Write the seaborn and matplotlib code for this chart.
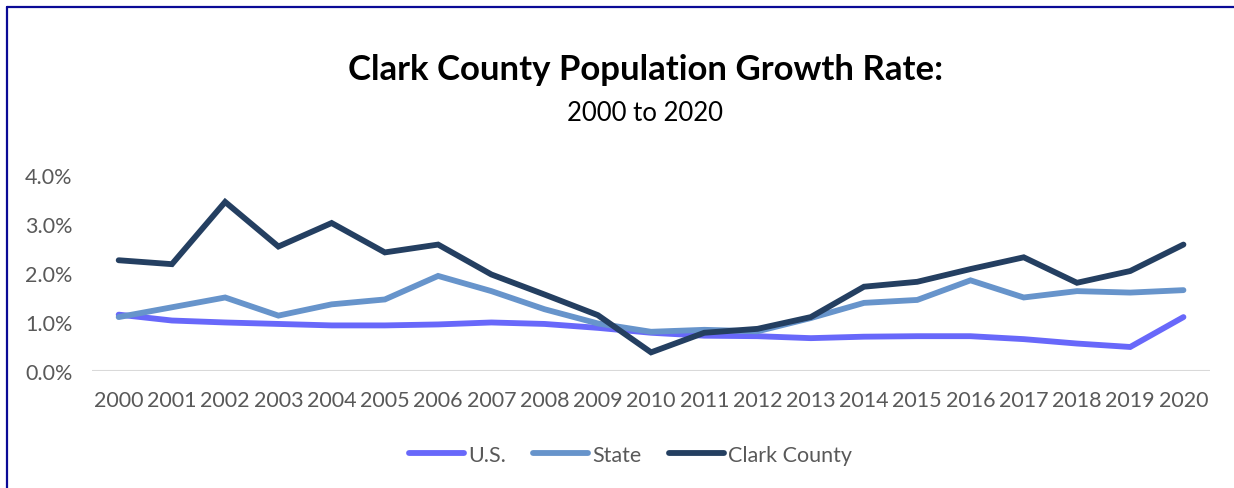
import pandas as pd
import matplotlib.pyplot as plt
import matplotlib.lines as mlines
from matplotlib.ticker import PercentFormatter
import seaborn as sns

years = [str(y) for y in range(2000, 2021)]

us = [1.15, 1.03, 0.99, 0.96, 0.93, 0.93, 0.95, 0.99, 0.96, 0.88, 0.78,
      0.72, 0.71, 0.67, 0.70, 0.71, 0.71, 0.65, 0.56, 0.49, 1.10]
state = [1.10, 1.30, 1.50, 1.13, 1.36, 1.46, 1.94, 1.63, 1.26, 0.97, 0.80,
         0.84, 0.81, 1.08, 1.39, 1.45, 1.85, 1.50, 1.63, 1.60, 1.65]
clark = [2.26, 2.18, 3.45, 2.54, 3.02, 2.42, 2.58, 1.97, 1.56, 1.14, 0.38,
         0.78, 0.86, 1.10, 1.72, 1.82, 2.08, 2.32, 1.80, 2.04, 2.58]

series_names = ["U.S.", "State", "Clark County"]
colors = ["#6868FA", "#6794CB", "#243F61"]

df = pd.DataFrame({
    "year": years * 3,
    "rate": us + state + clark,
    "area": [n for n in series_names for _ in years],
})

sns.set_style("white")
plt.rcParams['font.family'] = ['Lato', 'DejaVu Sans']

fig = plt.figure(figsize=(12.34, 4.89), dpi=100)
ax = fig.add_axes([0.0746, 0.2393, 0.906, 0.4008])

sns.lineplot(data=df, x="year", y="rate", hue="area", palette=colors,
             linewidth=4.2, ax=ax, legend=False, sort=False)
for ln in ax.lines:
    ln.set_solid_capstyle("round")
    ln.set_solid_joinstyle("miter")

ax.set_xlim(-0.5, 20.5)
ax.set_ylim(0, 4.0)
ax.set_yticks([0, 1, 2, 3, 4])
ax.yaxis.set_major_formatter(PercentFormatter(decimals=1))
ax.axhline(0, color="#D9D9D9", linewidth=1.5, zorder=0)
for s in ax.spines.values():
    s.set_visible(False)
ax.tick_params(axis="both", length=0, labelsize=15.5, colors="#595959")
ax.tick_params(axis="x", pad=14)
ax.tick_params(axis="y", pad=14)
ax.set_xlabel("")
ax.set_ylabel("")

fig.text(0.523, 0.857, "Clark County Population Growth Rate:", ha="center",
         va="center", fontsize=25, fontweight="bold", color="black")
fig.text(0.523, 0.767, "2000 to 2020", ha="center", va="center",
         fontsize=18.5, color="black")

handles = [mlines.Line2D([], [], color=c, linewidth=4.2, solid_capstyle="round")
           for c in colors]
leg = fig.legend(handles, series_names, loc="center", bbox_to_anchor=(0.511, 0.068),
                 ncol=3, frameon=False, fontsize=15.5, handlelength=2.55,
                 handletextpad=0.2, columnspacing=1.25)
for t in leg.get_texts():
    t.set_color("#595959")

# chart frame (left and top edges)
fig.add_artist(mlines.Line2D([7 / 1234, 7 / 1234], [0, 1 - 8 / 489],
                             color="#0A0A96", linewidth=1.6))
fig.add_artist(mlines.Line2D([7 / 1234, 1], [1 - 8 / 489, 1 - 8 / 489],
                             color="#0A0A96", linewidth=1.6))

fig.savefig("out.png", dpi=100)
